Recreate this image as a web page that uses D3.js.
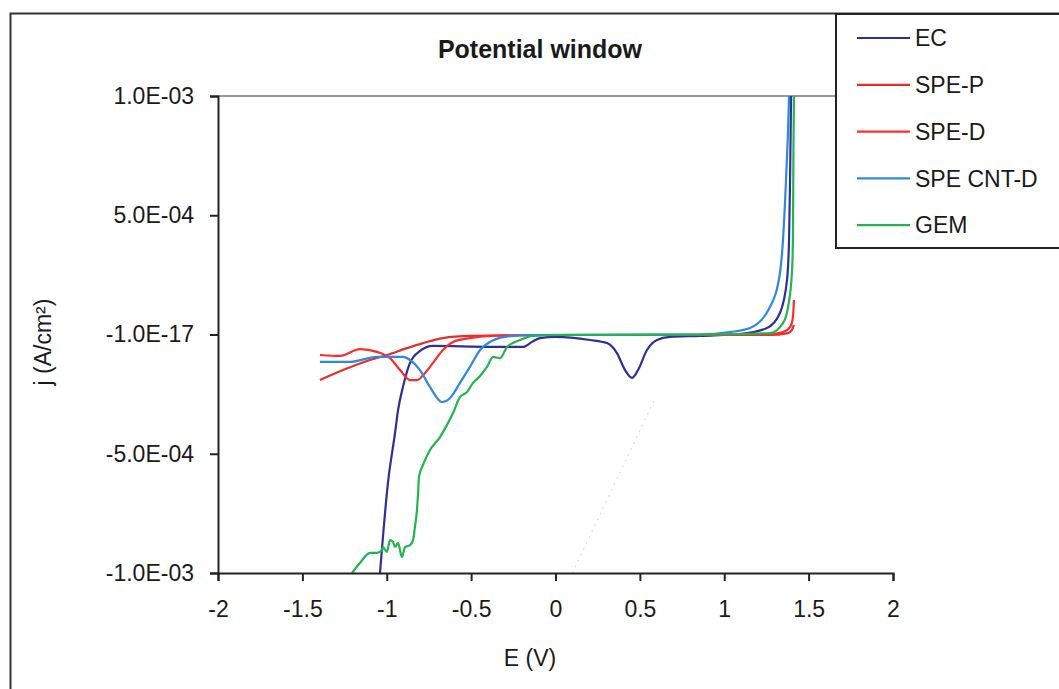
<!DOCTYPE html>
<html>
<head>
<meta charset="utf-8">
<script src="https://cdn.jsdelivr.net/npm/d3@7"></script>
<style>
  body { margin: 0; background: #fff; }
  text { font-family: "Liberation Sans", Arial, sans-serif; fill: #1a1a1a; }
</style>
</head>
<body>
<div class="chart"></div>
<script>
// Axis ticks and labels (j values stored in units of 1e-4 A/cm2)
var xTicks = [-2, -1.5, -1, -0.5, 0, 0.5, 1, 1.5, 2];
var yTicks = [-10, -5, 0, 5, 10];
var yTickLabels = ["-1.0E-03", "-5.0E-04", "-1.0E-17", "5.0E-04", "1.0E-03"];

var seriesNames = ["EC", "SPE-P", "SPE-D", "SPE CNT-D", "GEM"];

// EC  [E (V), j (1e-4 A/cm2)]
var ecData = [
  [-1.040, -10], [-0.993, -6.23], [-0.951, -4.13], [-0.933, -3.17], [-0.904, -2.20],
  [-0.862, -1.19], [-0.803, -0.69], [-0.726, -0.48], [-0.388, -0.52], [-0.193, -0.52],
  [-0.139, -0.31], [-0.092, -0.15], [0.0, -0.10], [0.204, -0.23], [0.305, -0.36],
  [0.364, -0.78], [0.412, -1.49], [0.453, -1.82], [0.489, -1.49], [0.542, -0.65],
  [0.601, -0.23], [0.679, -0.10], [0.856, -0.06], [1.093, 0.02], [1.253, 0.27],
  [1.330, 0.90], [1.372, 2.29], [1.384, 3.96], [1.390, 6.48], [1.396, 10]
];

// SPE-P
var speP = [
  [-1.396, -1.91], [-1.259, -1.49], [-1.117, -1.11], [-0.999, -0.86], [-0.880, -0.57],
  [-0.785, -0.36], [-0.667, -0.15], [-0.507, -0.06], [0.0, -0.02], [1.271, -0.02],
  [1.378, 0.06], [1.401, 0.19], [1.413, 0.40]
];

// SPE-D
var speD = [
  [-1.396, -0.86], [-1.277, -0.90], [-1.159, -0.61], [-1.058, -0.73], [-0.981, -0.99],
  [-0.921, -1.49], [-0.862, -1.91], [-0.821, -1.91], [-0.773, -1.61], [-0.726, -1.19],
  [-0.667, -0.65], [-0.607, -0.31], [-0.507, -0.15], [-0.388, -0.06], [0.0, -0.02],
  [0.856, -0.02], [1.230, -0.02], [1.348, 0.10], [1.390, 0.31], [1.407, 0.73], [1.413, 1.45]
];

// SPE CNT-D
var speCnt = [
  [-1.396, -1.15], [-1.218, -1.15], [-1.058, -0.94], [-0.904, -0.94], [-0.862, -1.07],
  [-0.803, -1.49], [-0.744, -2.20], [-0.673, -2.83], [-0.625, -2.66], [-0.566, -2.03],
  [-0.507, -1.36], [-0.447, -0.65], [-0.388, -0.31], [-0.299, -0.10], [-0.151, -0.02],
  [0.856, 0.0], [1.034, 0.10], [1.153, 0.27], [1.271, 1.15], [1.330, 2.58],
  [1.348, 3.96], [1.366, 6.48], [1.378, 8.57], [1.384, 10]
];

// GEM
var gemData = [
  [-1.206, -10], [-1.159, -9.58], [-1.099, -9.16], [-1.058, -9.16], [-1.028, -9.04],
  [-1.022, -8.91], [-0.999, -9.12], [-0.981, -8.62], [-0.963, -8.70], [-0.951, -8.91],
  [-0.933, -8.74], [-0.910, -9.33], [-0.892, -8.91], [-0.862, -8.83], [-0.844, -8.62],
  [-0.833, -8.07], [-0.821, -7.36], [-0.815, -6.73], [-0.809, -5.97], [-0.785, -5.47],
  [-0.744, -4.84], [-0.684, -4.30], [-0.643, -3.79], [-0.607, -3.29], [-0.566, -2.62],
  [-0.524, -2.41], [-0.489, -2.03], [-0.447, -1.74], [-0.406, -1.36], [-0.370, -0.94],
  [-0.329, -0.99], [-0.287, -0.52], [-0.210, -0.23], [-0.133, -0.06], [0.027, -0.02],
  [0.856, 0.0], [1.271, 0.06], [1.348, 0.48], [1.378, 1.15], [1.401, 2.58],
  [1.407, 3.96], [1.410, 7.73], [1.413, 10]
];

// faint dotted leftover line in the plot
var faintLine = [[0.10, -10], [0.59, -2.68]];

var allSeries = [ecData, speP, speD, speCnt, gemData];
var colors = ["#2e3192", "#e2302e", "#ff2b2b", "#2f88dc", "#22b451"];

var svgWidth = 1059;
var svgHeight = 689;

// plot area
var plot = { left: 218, right: 893, top: 96, bottom: 573 };

var svg = d3.select(".chart")
  .append("svg")
  .attr("width", svgWidth)
  .attr("height", svgHeight);

// outer chart border
svg.append("rect")
  .attr("x", 10.5)
  .attr("y", 13.5)
  .attr("width", 1080)
  .attr("height", 700)
  .attr("fill", "none")
  .attr("stroke", "#333")
  .attr("stroke-width", 2);

var xScale = d3.scaleLinear().domain([-2, 2]).range([plot.left, plot.right]);
var yScale = d3.scaleLinear().domain([-10, 10]).range([plot.bottom, plot.top]);

// top gridline
svg.append("line")
  .attr("x1", plot.left).attr("x2", plot.right)
  .attr("y1", yScale(10)).attr("y2", yScale(10))
  .attr("stroke", "#999")
  .attr("stroke-width", 2);

svg.append("clipPath")
  .attr("id", "clip")
  .append("rect")
  .attr("x", plot.left).attr("y", plot.top - 1)
  .attr("width", plot.right - plot.left)
  .attr("height", plot.bottom - plot.top + 1);

var drawLine = d3.line()
  .x(function(d) { return xScale(d[0]); })
  .y(function(d) { return yScale(d[1]); })
  .curve(d3.curveMonotoneX);

var lines = svg.append("g").attr("clip-path", "url(#clip)");

lines.append("path")
  .attr("d", d3.line()
    .x(function(d) { return xScale(d[0]); })
    .y(function(d) { return yScale(d[1]); })(faintLine))
  .attr("fill", "none")
  .attr("stroke", "#dcdcdc")
  .attr("stroke-width", 1.5)
  .attr("stroke-dasharray", "1.5,5");

allSeries.forEach(function(series, i) {
  lines.append("path")
    .attr("d", drawLine(series))
    .attr("fill", "none")
    .attr("stroke", colors[i])
    .attr("stroke-width", 2.2)
    .attr("stroke-linejoin", "round");
});

// axes
var bottomAxis = d3.axisBottom(xScale)
  .tickValues(xTicks)
  .tickSize(8)
  .tickPadding(20)
  .tickFormat(function(d) { return d3.format("")(d).replace("−", "-"); });

var leftAxis = d3.axisLeft(yScale)
  .tickValues(yTicks)
  .tickSize(8)
  .tickPadding(16)
  .tickFormat(function(d, i) { return yTickLabels[i]; });

var xg = svg.append("g")
  .attr("transform", "translate(0," + plot.bottom + ")")
  .call(bottomAxis);

var yg = svg.append("g")
  .attr("transform", "translate(" + plot.left + ",0)")
  .call(leftAxis);

[xg, yg].forEach(function(g) {
  g.select(".domain").attr("stroke", "#222").attr("stroke-width", 2);
  g.selectAll(".tick line").attr("stroke", "#222").attr("stroke-width", 2);
  g.selectAll(".tick text")
    .attr("fill", "#1a1a1a")
    .style("font-family", "'Liberation Sans', Arial, sans-serif")
    .style("font-size", "23px");
});

// title
svg.append("text")
  .attr("x", 540)
  .attr("y", 58)
  .attr("text-anchor", "middle")
  .style("font-size", "25px")
  .style("font-weight", "bold")
  .text("Potential window");

// axis labels
svg.append("text")
  .attr("x", 530)
  .attr("y", 666)
  .attr("text-anchor", "middle")
  .style("font-size", "23px")
  .text("E (V)");

svg.append("text")
  .attr("transform", "translate(51,342) rotate(-90)")
  .attr("text-anchor", "middle")
  .style("font-size", "23px")
  .text("j (A/cm²)");

// legend
var legend = svg.append("g");

legend.append("rect")
  .attr("x", 836)
  .attr("y", 14)
  .attr("width", 240)
  .attr("height", 234)
  .attr("fill", "#fff")
  .attr("stroke", "#222")
  .attr("stroke-width", 2);

seriesNames.forEach(function(name, i) {
  var ly = 38 + i * 46.8;
  legend.append("line")
    .attr("x1", 857).attr("x2", 910)
    .attr("y1", ly).attr("y2", ly)
    .attr("stroke", colors[i])
    .attr("stroke-width", 2.2);
  legend.append("text")
    .attr("x", 915)
    .attr("y", ly)
    .attr("dy", "0.36em")
    .style("font-size", "23px")
    .text(name);
});
</script>
</body>
</html>
